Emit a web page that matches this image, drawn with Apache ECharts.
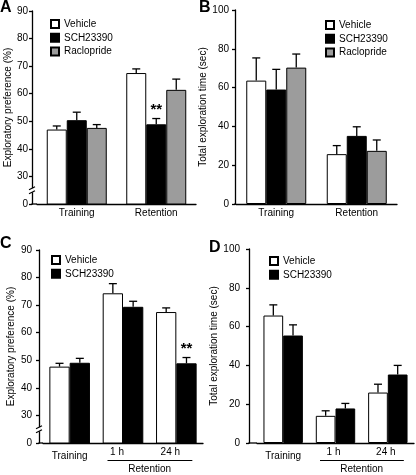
<!DOCTYPE html>
<html><head><meta charset="utf-8">
<script src="https://cdn.jsdelivr.net/npm/echarts@6/dist/echarts.min.js"></script>
<style>html,body{margin:0;padding:0;background:#fff}#c{width:416px;height:475px}</style>
</head><body><div id="c"></div>
<script>
// ---------- data ----------
const catsAB = ['Training', 'Retention'];
const catsCD = ['Training', '1 h', '24 h'];
const groupNames = ['Vehicle', 'SCH23390', 'Raclopride'];

// Panel A: exploratory preference (%)
const vehA = [47.0, 67.5],  vehA_sem = [1.3, 1.5];
const schA = [50.4, 48.9],  schA_sem = [2.9, 2.1];
const racA = [47.6, 61.4],  racA_sem = [1.2, 3.9];
const sigA = ['', '**'];
// Panel B: total exploration time (sec)
const vehB = [63.6, 25.7],  vehB_sem = [11.7, 4.4];
const schB = [59.0, 35.1],  schB_sem = [10.4, 4.7];
const racB = [70.3, 27.4],  racB_sem = [7.0, 5.6];
// Panel C: exploratory preference (%)
const vehC = [47.7, 74.3, 67.5], vehC_sem = [1.2, 3.5, 1.5];
const schC = [49.1, 69.4, 48.9], schC_sem = [1.6, 2.0, 2.1];
const sigC = ['', '', '**'];
// Panel D: total exploration time (sec)
const vehD = [65.7, 14.0, 26.0], vehD_sem = [5.5, 2.6, 4.3];
const schD = [55.4, 17.8, 35.3], schD_sem = [5.5, 2.6, 4.7];

const prefTicks = [20, 30, 40, 50, 60, 70, 80, 90];   // 20 drawn as "0" (broken axis)
const prefBreakValue = 25;
const timeTicks = [0, 20, 40, 60, 80, 100];

// ---------- styling ----------
const FONT = '"Liberation Sans", Arial, Helvetica, sans-serif';
const fills = ['#ffffff', '#000000', '#9c9c9c'];

const panels = [
  {letter:'A', lx:0, ly:0, grid:{left:37, top:11, width:159, height:193}, offset:5, cats:catsAB,
   min:20, max:90, interval:10, brk:true, name:'Exploratory preference (%)', nameGap:15, labelMargin:4,
   bw:20, groups:[[vehA,vehA_sem,null],[schA,schA_sem,sigA],[racA,racA_sem,null]],
   legend:{left:45, top:14}},
  {letter:'B', lx:199, ly:0, grid:{left:236, top:10, width:161, height:194}, offset:1, cats:catsAB,
   min:0, max:100, interval:20, brk:false, name:'Total exploration time (sec)', nameGap:25, labelMargin:6,
   bw:20, groups:[[vehB,vehB_sem,null],[schB,schB_sem,null],[racB,racB_sem,null]],
   legend:{left:320, top:15}},
  {letter:'C', lx:0, ly:236, grid:{left:43, top:250, width:160, height:193}, offset:4, cats:catsCD,
   min:20, max:90, interval:10, brk:true, name:'Exploratory preference (%)', nameGap:23, labelMargin:7,
   bw:20.3, groups:[[vehC,vehC_sem,null],[schC,schC_sem,sigC]], retention:true,
   legend:{left:46, top:250}},
  {letter:'D', lx:209, ly:240, grid:{left:257, top:249, width:157, height:194}, offset:8, cats:catsCD,
   min:0, max:100, interval:20, brk:false, name:'Total exploration time (sec)', nameGap:29, labelMargin:9,
   bw:19.7, groups:[[vehD,vehD_sem,null],[schD,schD_sem,null]], retention:true,
   legend:{left:264, top:251}}
];

const option = {
  animation:false, backgroundColor:'#fff',
  textStyle:{fontFamily:FONT},
  grid:[], xAxis:[], yAxis:[], series:[], legend:[], graphic:[]
};

panels.forEach((p, pi) => {
  option.grid.push(Object.assign({containLabel:false}, p.grid));
  const cd = p.cats === catsCD;
  option.xAxis.push({
    type:'category', gridIndex:pi, data:p.cats,
    axisLine:{lineStyle:{color:'#000', width:1.3}}, axisTick:{show:false},
    axisLabel:{color:'#000', fontSize:10, fontFamily:FONT, margin:4, interval:0, hideOverlap:false,
      formatter: v => cd ? (v === 'Training' ? '{lo|' + v + '}' : '{hi|' + v + '}') : v,
      rich:{lo:{fontSize:10, fontFamily:FONT, color:'#000', padding:[4,0,0,0]},
            hi:{fontSize:10, fontFamily:FONT, color:'#000', padding:[0, pi === 2 ? 12 : 4, 0, 0]}}}
  });
  option.yAxis.push({
    type:'value', gridIndex:pi, min:p.min, max:p.max, interval:p.interval, offset:p.offset,
    name:p.name, nameLocation:'middle', nameGap:p.nameGap, nameRotate:90,
    nameTextStyle:{color:'#000', fontSize:10, fontFamily:FONT},
    axisLine:{show:true, lineStyle:{color:'#000', width:1.3}},
    axisTick:{show:true, length:3, lineStyle:{color:'#000', width:1.3}},
    splitLine:{show:false},
    axisLabel:{color:'#000', fontSize:10, fontFamily:FONT, margin:p.labelMargin,
      formatter: v => (p.brk && v === p.min) ? '0' : String(v)}
  });
  const n = p.groups.length;
  p.groups.forEach((g, k) => {
    option.series.push({
      type:'bar', name:groupNames[k], xAxisIndex:pi, yAxisIndex:pi, data:g[0],
      barWidth:p.bw, barGap:'0%', clip:true,
      itemStyle:{color:fills[k], borderColor:'#000', borderWidth:1}
    });
  });
  p.groups.forEach((g, k) => {
    const means = g[0], sems = g[1], sig = g[2];
    option.series.push({
      type:'custom', xAxisIndex:pi, yAxisIndex:pi, silent:true, z:5, clip:false,
      data: means.map((m, i) => [i, m, m + sems[i]]),
      encode:{x:0, y:[1,2]},
      renderItem(params, api){
        const c = api.value(0);
        const p0 = api.coord([c, api.value(1)]);
        const p1 = api.coord([c, api.value(2)]);
        const x = p0[0] + (k - (n - 1) / 2) * p.bw;
        const st = {stroke:'#000', lineWidth:1.3};
        const ch = [
          {type:'line', shape:{x1:x, y1:p0[1], x2:x, y2:p1[1]}, style:st},
          {type:'line', shape:{x1:x-4, y1:p1[1], x2:x+4, y2:p1[1]}, style:st}
        ];
        if (sig && sig[params.dataIndex]) {
          ch.push({type:'text', x:x, y:p1[1] - 9,
            style:{text:sig[params.dataIndex], fill:'#000', font:'bold 15px ' + FONT,
                   textAlign:'center', textVerticalAlign:'middle'}});
        }
        return {type:'group', children:ch};
      }
    });
  });
  option.legend.push({
    left:p.legend.left, top:p.legend.top, orient:'vertical', icon:'rect',
    itemWidth:8, itemHeight:8, itemGap:3.8, selectedMode:false,
    data: groupNames.slice(0, n),
    textStyle:{fontSize:10, fontFamily:FONT, color:'#000', padding:[0,0,0,0]}
  });
  option.graphic.push({type:'text', left:p.lx, top:p.ly,
    style:{text:p.letter, font:'bold 16px ' + FONT, fill:'#000'}});
});

const chart = echarts.init(document.getElementById('c'), null, {renderer:'canvas'});
chart.setOption(option);

// decorations: axis joins, axis breaks, retention bracket
const extra = [];
panels.forEach((p, pi) => {
  const axX = p.grid.left - p.offset;
  const bottom = p.grid.top + p.grid.height;
  extra.push({type:'line', shape:{x1:axX - 0.6, y1:bottom, x2:p.grid.left, y2:bottom},
    style:{stroke:'#000', lineWidth:1.3}, z:10});
  if (p.brk) {
    const yb = chart.convertToPixel({yAxisIndex:pi}, prefBreakValue);
    extra.push({type:'rect', shape:{x:axX - 1.5, y:yb - 2, width:3, height:4}, style:{fill:'#fff'}, z:10});
    [-2, 2].forEach(d => extra.push({type:'line',
      shape:{x1:axX - 3, y1:yb + d + 1.5, x2:axX + 3, y2:yb + d - 1.5},
      style:{stroke:'#000', lineWidth:1.1}, z:11}));
  }
  if (p.retention) {
    const c1 = chart.convertToPixel({xAxisIndex:pi}, p.cats[1]);
    const c2 = chart.convertToPixel({xAxisIndex:pi}, p.cats[2]);
    const ly = bottom + 17.5;
    extra.push({type:'line', shape:{x1:c1 - 15.5, y1:ly, x2:c2 + 16, y2:ly},
      style:{stroke:'#000', lineWidth:1.1}, z:10});
    extra.push({type:'text', x:(c1 + c2) / 2, y:ly + 9,
      style:{text:'Retention', font:'10px ' + FONT, fill:'#000', textAlign:'center', textVerticalAlign:'middle'}, z:10});
  }
});
chart.setOption({graphic: option.graphic.concat(extra)});
</script></body></html>
